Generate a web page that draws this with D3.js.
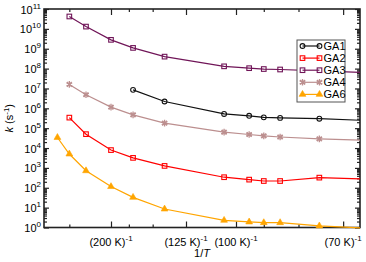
<!DOCTYPE html>
<meta charset="utf-8">
<style>
body { margin: 0; background: #fff; }
svg { font-family: "Liberation Sans", Arial, sans-serif; }
.axis path, .axis line { stroke: #222; }
.frame { fill: none; stroke: #222; stroke-width: 1.6px; }
</style>
<svg width="366" height="262"></svg>
<script src="https://cdn.jsdelivr.net/npm/d3@7"></script>
<script>
// temperatures (K) of the points, x is 1/T
var temps = [350, 300, 250, 200, 170, 140, 105, 95, 90, 85, 75, 65];

// rate constants k (s^-1), null where a series has no point
var ga1 = [null, null, null, null, 8.5e6, 2.2e6, 5.2e5, 4.2e5, 3.5e5, 3.3e5, 3.0e5, 2.4e5];
var ga2 = [null, 3.4e5, 5.0e4, 7.9e3, 3.2e3, 1.26e3, 340, 257, 219, 219, 324, 270];
var ga3 = [null, 4.2e10, 1.3e10, 2.8e9, 1.1e9, 4.0e8, 1.3e8, 1.05e8, 9.5e7, 9.0e7, 7.6e7, 6.2e7];
var ga4 = [null, 1.6e7, 4.8e6, 1.15e6, 4.7e5, 1.8e5, 6.3e4, 4.8e4, 4.1e4, 3.6e4, 2.9e4, 2.4e4];
var ga6 = [3.4e4, 5.0e3, 720, 115, 33, 8.5, 2.3, 1.9, 1.75, 1.75, 1.2, 0.89];

var names = ["GA1", "GA2", "GA3", "GA4", "GA6"];
var colors = ["#111111", "#ff0000", "#701558", "#bc8f8f", "#ffa500"];
var markers = ["circle", "square", "square", "asterisk", "triangle"];

// x ticks: labelled majors and unlabelled minors (K)
var xMajorT = [200, 125, 100, 70];
var xMinorT = [300, 175, 150, 90, 80];
var yMajor = d3.range(0, 12).map(function(e) { return Math.pow(10, e); });

var series = [ga1, ga2, ga3, ga4, ga6].map(function(vals, i) {
  return {
    name: names[i], color: colors[i], marker: markers[i],
    points: vals.map(function(v, j) { return {x: 1 / temps[j], y: v}; })
                .filter(function(d) { return d.y != null; })
  };
});

var svg = d3.select("svg");
var mL = 44, mR = 360, mT = 9, mB = 227.5;

var x = d3.scaleLinear().domain([0.00232, 0.01496]).range([mL, mR]);
var y = d3.scaleLog().domain([1, 1e11]).range([mB, mT]);

var yMinor = [];
yMajor.slice(0, -1).forEach(function(m) {
  for (var k = 2; k < 10; k++) yMinor.push(m * k);
});

svg.append("defs").append("clipPath")
    .attr("id", "clip")
  .append("rect")
    .attr("x", mL).attr("y", mT - 4)
    .attr("width", mR - mL).attr("height", mB - mT + 8);

// ticks, all pointing inward
function ticks(axisFn, scale, values, size, tr) {
  svg.append("g")
      .attr("class", "axis")
      .attr("transform", tr)
      .call(axisFn(scale).tickValues(values).tickSize(-size).tickFormat(""))
      .call(function(g) { g.select(".domain").remove(); })
      .selectAll("line").attr("stroke-width", 1.2);
}
var xMaj = xMajorT.map(function(t) { return 1 / t; });
var xMin = xMinorT.map(function(t) { return 1 / t; });
ticks(d3.axisBottom, x, xMaj, 6, "translate(0," + mB + ")");
ticks(d3.axisBottom, x, xMin, 3, "translate(0," + mB + ")");
ticks(d3.axisTop, x, xMaj, 6, "translate(0," + mT + ")");
ticks(d3.axisTop, x, xMin, 3, "translate(0," + mT + ")");
ticks(d3.axisLeft, y, yMajor, 5, "translate(" + mL + ",0)");
ticks(d3.axisLeft, y, yMinor, 3, "translate(" + mL + ",0)");
ticks(d3.axisRight, y, yMajor, 5, "translate(" + mR + ",0)");
ticks(d3.axisRight, y, yMinor, 3, "translate(" + mR + ",0)");

svg.append("rect")
    .attr("class", "frame")
    .attr("x", mL).attr("y", mT)
    .attr("width", mR - mL).attr("height", mB - mT);

// y tick labels 10^n
var yl = svg.append("g").selectAll("text")
    .data(yMajor)
  .enter().append("text")
    .attr("x", mL - 3)
    .attr("y", function(d) { return y(d) + 4.5; })
    .attr("text-anchor", "end")
    .attr("font-size", 11);
yl.append("tspan").text("10");
yl.append("tspan")
    .attr("dy", -5)
    .attr("font-size", 8)
    .text(function(d) { return Math.round(Math.log10(d)); });

// x tick labels (T K)^-1
var xl = svg.append("g").selectAll("text")
    .data(xMajorT)
  .enter().append("text")
    .attr("x", function(t) { return x(1 / t); })
    .attr("y", 246)
    .attr("text-anchor", "middle")
    .attr("font-size", 11);
xl.append("tspan").text(function(t) { return "(" + t + " K)"; });
xl.append("tspan").attr("dy", -5).attr("font-size", 8).text("-1");

// axis titles
svg.append("text")
    .attr("x", (mL + mR) / 2)
    .attr("y", 257)
    .attr("text-anchor", "middle")
    .attr("font-size", 11)
    .html("1/<tspan font-style='italic'>T</tspan>");

var yt = svg.append("text")
    .attr("transform", "translate(13," + ((mT + mB) / 2) + ") rotate(-90)")
    .attr("text-anchor", "middle")
    .attr("font-size", 11);
yt.append("tspan").attr("font-style", "italic").text("k");
yt.append("tspan").text(" (s");
yt.append("tspan").attr("dy", -4).attr("font-size", 8).text("-1");
yt.append("tspan").attr("dy", 4).text(")");

var line = d3.line()
    .x(function(d) { return x(d.x); })
    .y(function(d) { return y(d.y); });

function drawMarker(g, type, color) {
  if (type === "circle") {
    g.append("circle").attr("r", 2.4)
        .attr("fill", "none").attr("stroke", color).attr("stroke-width", 1.1);
  } else if (type === "square") {
    g.append("rect").attr("x", -2.3).attr("y", -2.3).attr("width", 4.6).attr("height", 4.6)
        .attr("fill", "none").attr("stroke", color).attr("stroke-width", 1.1);
  } else if (type === "asterisk") {
    g.append("path").attr("d", d3.symbol(d3.symbolAsterisk, 30)())
        .attr("fill", "none").attr("stroke", color).attr("stroke-width", 1.3);
    g.append("path").attr("d", d3.symbol(d3.symbolTimes, 16)())
        .attr("fill", "none").attr("stroke", color).attr("stroke-width", 1.3);
  } else {
    g.append("path").attr("d", d3.symbol(d3.symbolTriangle, 20)())
        .attr("fill", color).attr("stroke", color).attr("stroke-width", 0.6);
  }
}

var sg = svg.append("g")
    .attr("clip-path", "url(#clip)")
  .selectAll("g")
    .data(series)
  .enter().append("g");

sg.append("path")
    .attr("d", function(d) { return line(d.points); })
    .attr("fill", "none")
    .attr("stroke", function(d) { return d.color; })
    .attr("stroke-width", 1.2);

sg.each(function(s) {
  d3.select(this).selectAll("g.pt")
      .data(s.points)
    .enter().append("g")
      .attr("class", "pt")
      .attr("transform", function(d) { return "translate(" + x(d.x) + "," + y(d.y) + ")"; })
      .each(function() { drawMarker(d3.select(this), s.marker, s.color); });
});

// legend
var lg = svg.append("g").attr("transform", "translate(297,40)");
lg.append("rect")
    .attr("width", 48).attr("height", 62)
    .attr("fill", "#fff").attr("stroke", "#555").attr("stroke-width", 1);
var li = lg.selectAll("g.item")
    .data(series)
  .enter().append("g")
    .attr("class", "item")
    .attr("transform", function(d, i) { return "translate(0," + (6 + i * 12.1) + ")"; });
li.append("line")
    .attr("x1", 5.5).attr("x2", 22.5)
    .attr("stroke", function(d) { return d.color; })
    .attr("stroke-width", 1.2);
li.each(function(s) {
  var g = d3.select(this);
  [5.5, 22.5].forEach(function(px) {
    drawMarker(g.append("g").attr("transform", "translate(" + px + ",0)"), s.marker, s.color);
  });
});
li.append("text")
    .attr("x", 26.5).attr("y", 4)
    .attr("font-size", 11)
    .text(function(d) { return d.name; });
</script>
